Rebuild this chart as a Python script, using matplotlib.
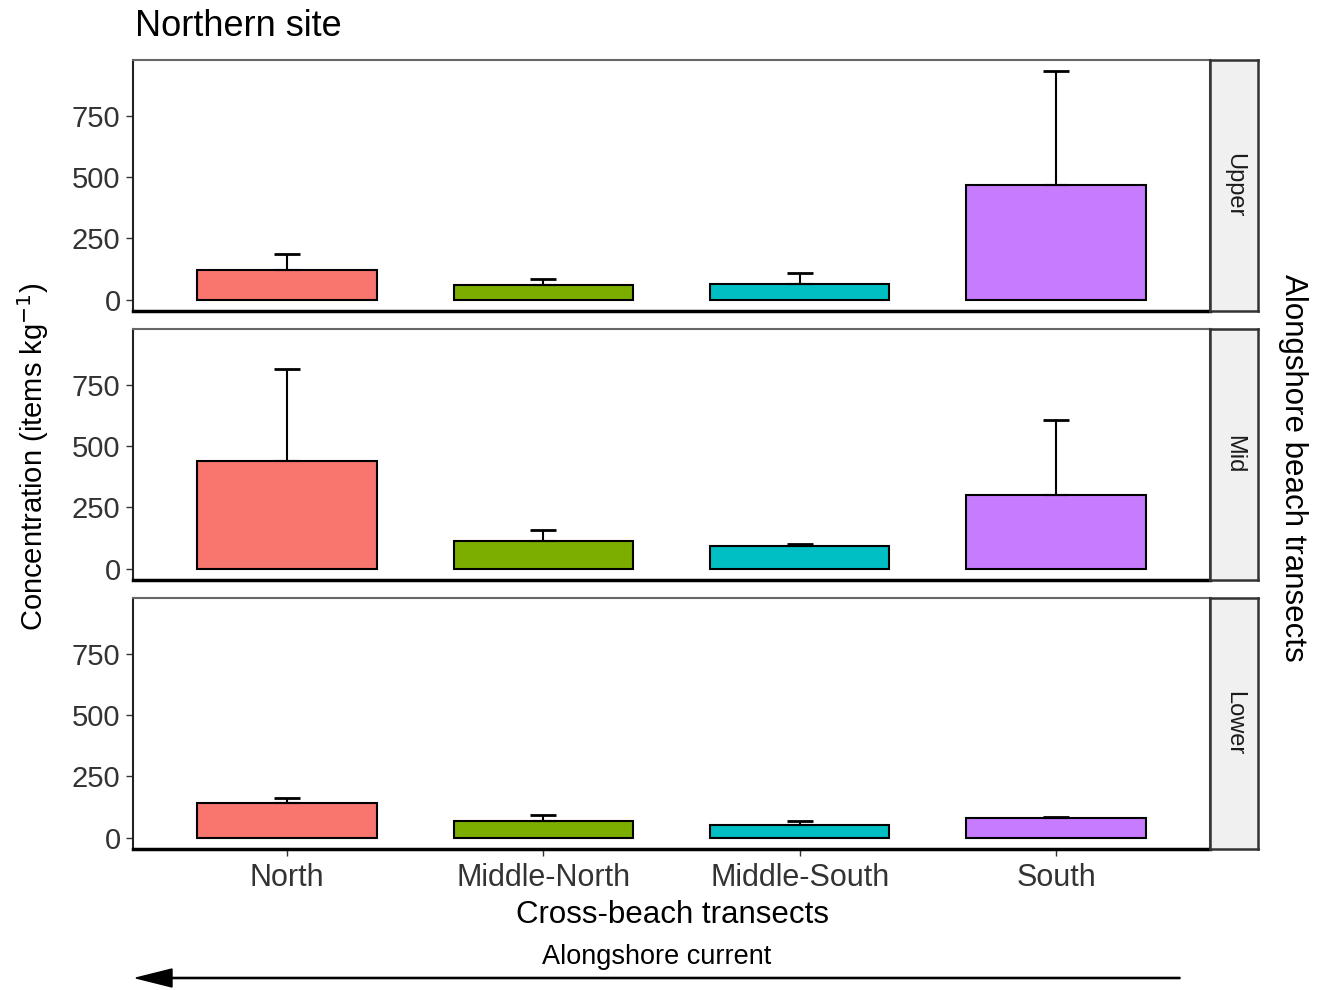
import matplotlib
matplotlib.use("Agg")
import matplotlib.pyplot as plt
import numpy as np

plt.rcParams["font.family"] = ["Liberation Sans", "DejaVu Sans"]

# Mean concentration (items/kg) and standard error per beach zone
transects = ["North", "Middle-North", "Middle-South", "South"]
zones = ["Upper", "Mid", "Lower"]
upper_mean = [122, 61, 65, 469]
upper_se = [66, 25, 45, 463]
mid_mean = [438, 113, 93, 300]
mid_se = [377, 45, 8, 308]
lower_mean = [142, 69, 53, 81]
lower_se = [20, 24, 16, 4]

means = [upper_mean, mid_mean, lower_mean]
ses = [upper_se, mid_se, lower_se]
colors = ["#F8766D", "#7CAE00", "#00BFC4", "#C77CFF"]

W, H = 1324, 990
fig = plt.figure(figsize=(W / 100, H / 100), dpi=100)

left, right = 133 / W, 1210 / W
strip_w = 48 / W
panel_tops = [60, 329, 598]
panel_h = 251

ymax = max(m + s for mm, ss in zip(means, ses) for m, s in zip(mm, ss))
pad = 0.05 * ymax
x = np.arange(len(transects))

for i, zone in enumerate(zones):
    bottom = 1 - (panel_tops[i] + panel_h) / H
    ax = fig.add_axes([left, bottom, right - left, panel_h / H])
    m = np.array(means[i])
    s = np.array(ses[i])
    ax.bar(x, m, width=0.7, color=colors, edgecolor="black", linewidth=1.5, zorder=2)
    # upper half of the error bar only
    ax.vlines(x, m, m + s, color="black", linewidth=1.5, zorder=3)
    ax.hlines(m + s, x - 0.05, x + 0.05, color="black", linewidth=2, zorder=3)
    ax.hlines(m, x - 0.05, x + 0.05, color="black", linewidth=1.5, zorder=3)

    ax.set_xlim(-0.6, len(transects) - 0.4)
    ax.set_ylim(-pad, ymax + pad)
    ax.set_yticks([0, 250, 500, 750])
    ax.tick_params(axis="y", labelsize=21, length=5, width=1, color="#333333",
                   labelcolor="#333333", pad=4)
    if i == len(zones) - 1:
        ax.set_xticks(x)
        ax.set_xticklabels(transects)
        ax.tick_params(axis="x", labelsize=22, length=5, width=1, color="#333333",
                       labelcolor="#333333", pad=5)
    else:
        ax.set_xticks([])
    for side in ["top", "right"]:
        ax.spines[side].set_color("#666666")
        ax.spines[side].set_linewidth(1.5)
    ax.spines["left"].set_color("#222222")
    ax.spines["left"].set_linewidth(1.5)
    ax.spines["bottom"].set_color("black")
    ax.spines["bottom"].set_linewidth(2.5)

    # facet strip on the right
    sax = fig.add_axes([right, bottom, strip_w, panel_h / H])
    sax.set_facecolor("#F0F0F0")
    sax.set_xticks([])
    sax.set_yticks([])
    for sp in sax.spines.values():
        sp.set_color("#333333")
        sp.set_linewidth(1.8)
    sax.text(0.5, 0.5, zone, rotation=270, ha="center", va="center",
             fontsize=17, color="#1A1A1A", transform=sax.transAxes)

fig.text(135 / W, 1 - 27 / H, "Northern site", fontsize=26, ha="left", va="center")
fig.text(33 / W, 1 - 457 / H, "Concentration (items kg$^{-1}$)", rotation=90,
         fontsize=21, ha="center", va="center")
fig.text(1293 / W, 1 - 468 / H, "Alongshore beach transects", rotation=270,
         fontsize=22.5, ha="center", va="center")
fig.text(672 / W, 1 - 915 / H, "Cross-beach transects", fontsize=22.5,
         ha="center", va="center")
fig.text(657 / W, 1 - 957 / H, "Alongshore current", fontsize=19.5,
         ha="center", va="center")
fig.patches.append(matplotlib.patches.FancyArrow(
    1180 / W, 1 - 978 / H, -(1180 - 136) / W, 0,
    width=1.2 / H, head_width=18 / H, head_length=36 / W,
    length_includes_head=True, color="black", transform=fig.transFigure))

fig.savefig("out.png", dpi=100)
